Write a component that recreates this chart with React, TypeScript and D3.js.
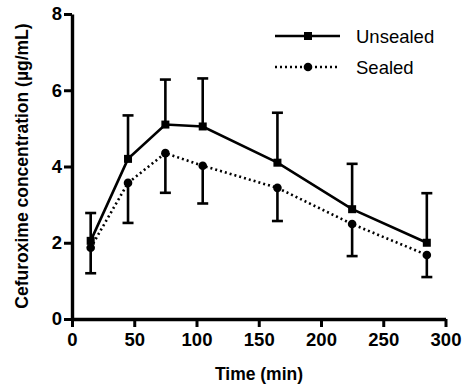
import * as d3 from 'd3';
import { useEffect, useRef } from 'react';

// Sampling times (min)
const times = [15, 45, 75, 105, 165, 225, 285];
// Unsealed series: mean and upper error (SD)
const unsealedMean = [2.05, 4.2, 5.1, 5.05, 4.1, 2.88, 2.0];
const unsealedUpper = [2.78, 5.34, 6.28, 6.31, 5.41, 4.07, 3.3];
// Sealed series: mean and lower error
const sealedMean = [1.87, 3.57, 4.35, 4.02, 3.44, 2.49, 1.68];
const sealedLower = [1.2, 2.52, 3.31, 3.03, 2.57, 1.65, 1.1];
const xTicks = [0, 50, 100, 150, 200, 250, 300];
const yTicks = [0, 2, 4, 6, 8];

const App = () => {
    const ref = useRef<SVGSVGElement>(null);

    useEffect(() => {
        const svg = d3.select(ref.current);
        svg.selectAll('*').remove();

        const font = 'Liberation Sans, Arial, sans-serif';
        const x = d3.scaleLinear().domain([0, 300]).range([72, 445.5]);
        const y = d3.scaleLinear().domain([0, 8]).range([319, 14]);

        // Axes
        const xAxis = svg.append('g')
            .attr('transform', `translate(0, ${y(0)})`)
            .call(d3.axisBottom(x).tickValues(xTicks).tickSize(8).tickSizeOuter(0).tickPadding(6));
        xAxis.select('.domain').attr('stroke-width', 3.4).attr('stroke', '#000');
        xAxis.selectAll('line').attr('stroke-width', 3).attr('stroke', '#000');
        xAxis.selectAll('text')
            .style('font-family', font).style('font-size', '18.5px').style('font-weight', 'bold').attr('fill', '#000');

        const yAxis = svg.append('g')
            .attr('transform', `translate(${x(0)}, 0)`)
            .call(d3.axisLeft(y).tickValues(yTicks).tickSize(8).tickSizeOuter(0).tickPadding(2));
        yAxis.select('.domain').attr('stroke-width', 3.4).attr('stroke', '#000');
        yAxis.selectAll('line').attr('stroke-width', 3).attr('stroke', '#000');
        yAxis.selectAll('text')
            .style('font-family', font).style('font-size', '18.5px').style('font-weight', 'bold').attr('fill', '#000');

        // Axis titles
        svg.append('text')
            .attr('x', 259)
            .attr('y', 380)
            .attr('text-anchor', 'middle')
            .style('font-family', font)
            .style('font-size', '17.5px')
            .style('font-weight', 'bold')
            .text('Time (min)');

        svg.append('text')
            .attr('transform', 'rotate(-90)')
            .attr('x', -166)
            .attr('y', 28)
            .attr('text-anchor', 'middle')
            .style('font-family', font)
            .style('font-size', '17.5px')
            .style('font-weight', 'bold')
            .text('Cefuroxime concentration (\u00b5g/mL)');

        const g = svg.append('g');

        // Error bars: unsealed upward, sealed downward
        const errorBar = (means: number[], ends: number[]) => {
            times.forEach((t, i) => {
                g.append('line')
                    .attr('x1', x(t)).attr('x2', x(t))
                    .attr('y1', y(means[i])).attr('y2', y(ends[i]))
                    .attr('stroke', '#000').attr('stroke-width', 2.6);
                g.append('line')
                    .attr('x1', x(t) - 5.5).attr('x2', x(t) + 5.5)
                    .attr('y1', y(ends[i])).attr('y2', y(ends[i]))
                    .attr('stroke', '#000').attr('stroke-width', 2.6);
            });
        };
        errorBar(unsealedMean, unsealedUpper);
        errorBar(sealedMean, sealedLower);

        const line = d3.line<number>()
            .x((_, i) => x(times[i]))
            .y((d) => y(d));

        g.append('path')
            .attr('d', line(sealedMean))
            .attr('fill', 'none')
            .attr('stroke', '#000')
            .attr('stroke-width', 2.6)
            .attr('stroke-dasharray', '2,3');

        g.append('path')
            .attr('d', line(unsealedMean))
            .attr('fill', 'none')
            .attr('stroke', '#000')
            .attr('stroke-width', 2.6);

        g.selectAll('.sq')
            .data(unsealedMean)
            .enter()
            .append('rect')
            .attr('x', (_, i) => x(times[i]) - 4)
            .attr('y', (d) => y(d) - 4)
            .attr('width', 8)
            .attr('height', 8)
            .attr('fill', '#000');

        g.selectAll('.dot')
            .data(sealedMean)
            .enter()
            .append('circle')
            .attr('cx', (_, i) => x(times[i]))
            .attr('cy', (d) => y(d))
            .attr('r', 4.3)
            .attr('fill', '#000');

        // Legend
        const legend = svg.append('g');
        legend.append('line')
            .attr('x1', 275).attr('x2', 340).attr('y1', 36).attr('y2', 36)
            .attr('stroke', '#000').attr('stroke-width', 2.6);
        legend.append('rect')
            .attr('x', 304).attr('y', 32).attr('width', 8).attr('height', 8).attr('fill', '#000');
        legend.append('text')
            .attr('x', 356).attr('y', 42.5)
            .style('font-family', font).style('font-size', '18.5px')
            .text('Unsealed');

        legend.append('line')
            .attr('x1', 275).attr('x2', 340).attr('y1', 67).attr('y2', 67)
            .attr('stroke', '#000').attr('stroke-width', 2.6).attr('stroke-dasharray', '2,3');
        legend.append('circle')
            .attr('cx', 308).attr('cy', 67).attr('r', 4.3).attr('fill', '#000');
        legend.append('text')
            .attr('x', 356).attr('y', 73.5)
            .style('font-family', font).style('font-size', '18.5px')
            .text('Sealed');
    }, []);

    return (
        <svg
            ref={ref}
            width={462}
            height={384}
            style={{ position: 'absolute', left: 0, top: 0, background: '#fff' }}
        />
    );
};

export default App;
